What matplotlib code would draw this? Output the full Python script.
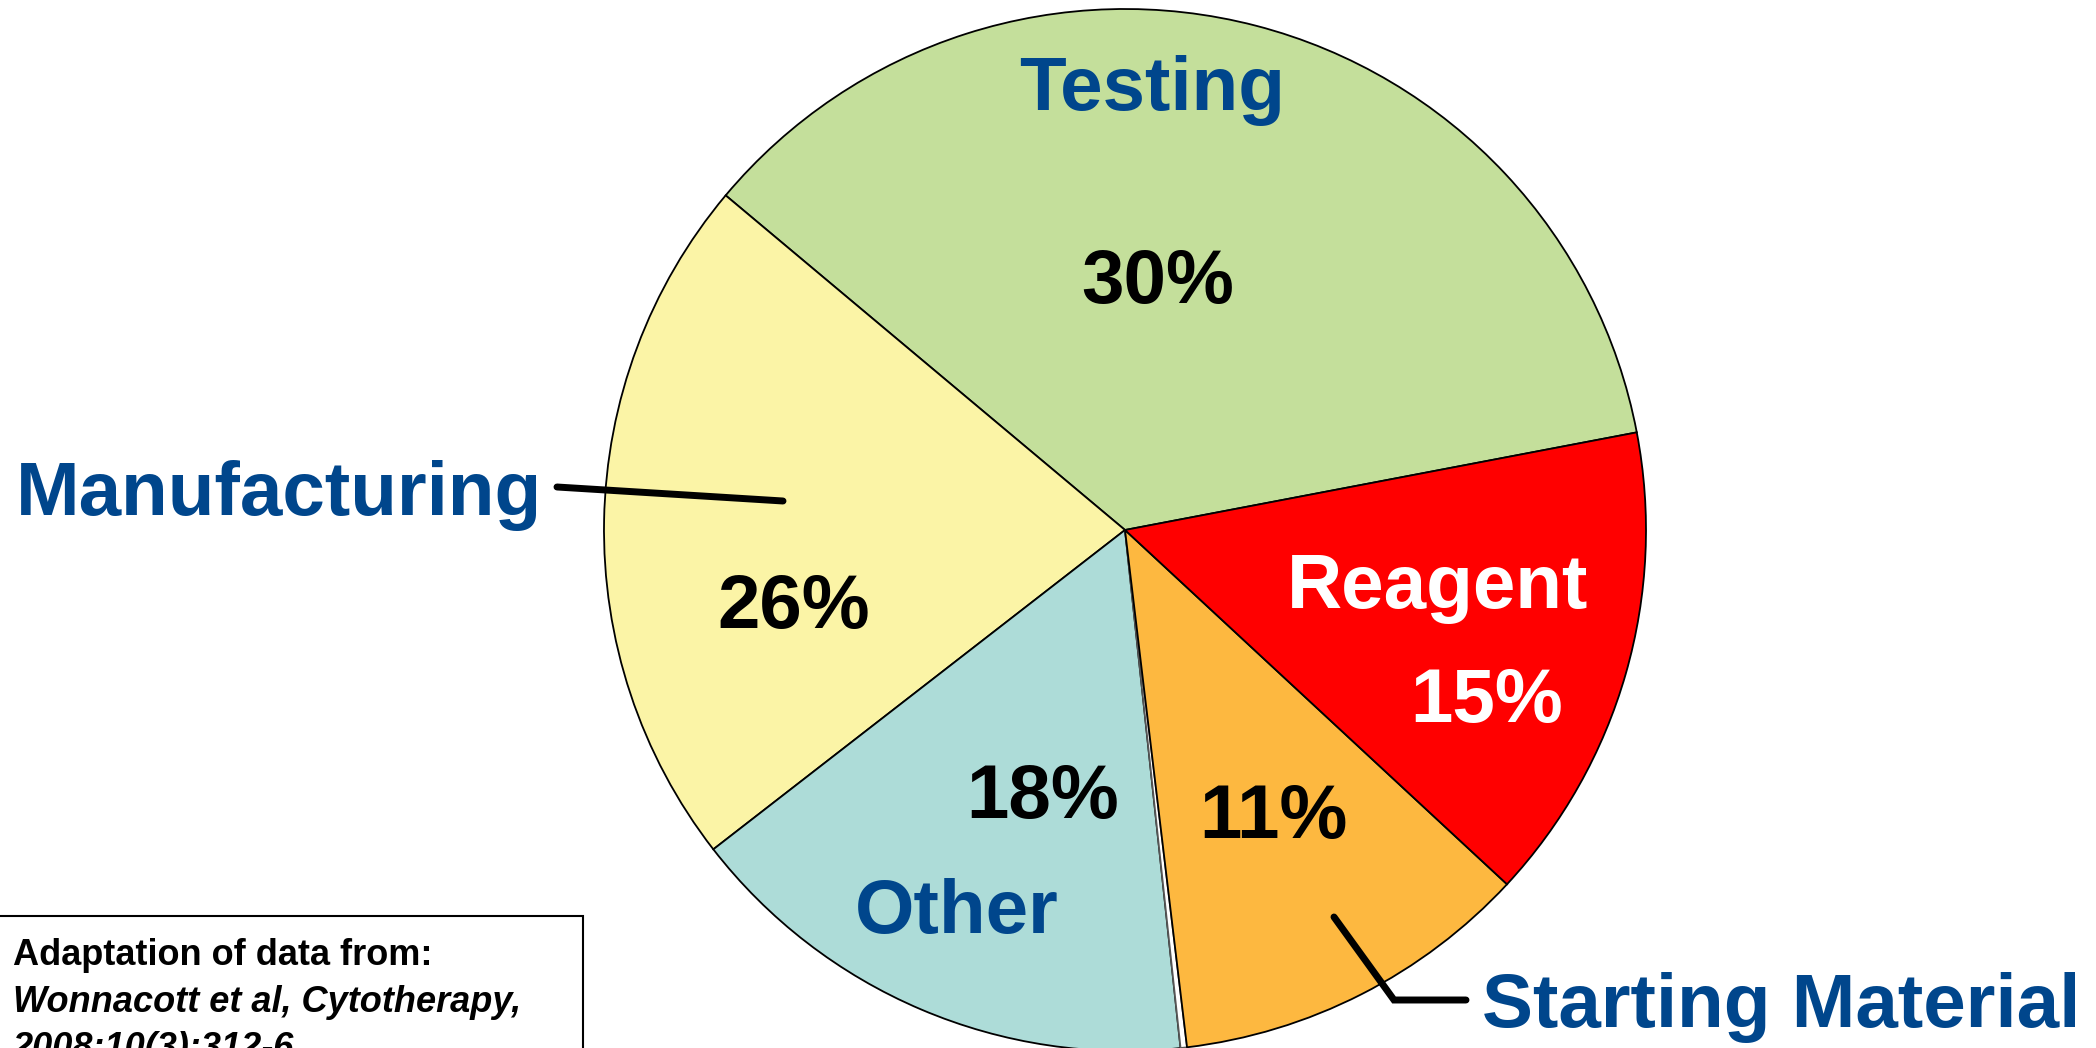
"""Pie chart of cost breakdown (adapted from Wonnacott et al, Cytotherapy 2008)."""

import matplotlib.pyplot as plt
from matplotlib.patches import Rectangle

plt.rcParams["font.family"] = ["Liberation Sans", "DejaVu Sans"]

# wedge shares as drawn (counter-clockwise from the Testing/Reagent edge)
categories = ["Testing", "Manufacturing", "Other", "", "Starting Material", "Reagent"]
shares = [35.9, 21.6, 16.2, 0.2, 11.2, 14.9]
pct_labels = ["30%", "26%", "18%", "", "11%", "15%"]
colors = ["#C4DF9B", "#FBF4A6", "#ADDCD8", "#FFFFFF", "#FDB840", "#FF0000"]

BLUE = "#00468C"
W, H = 2096, 1048

fig = plt.figure(figsize=(W / 100, H / 100), dpi=100)
ax = fig.add_axes([0, 0, 1, 1])

wedges, _ = ax.pie(
    shares, colors=colors, startangle=10.8, counterclock=True,
    center=(1125, 518), radius=521,
    wedgeprops=dict(edgecolor="black", linewidth=1.3),
)
wedges[3].set_edgecolor("#555555")

ax.set_xlim(0, W)
ax.set_ylim(0, H)
ax.set_aspect("equal")
ax.axis("off")

big = dict(fontsize=55, fontweight="bold", va="baseline")

# category names
ax.text(1152, 938, categories[0], color=BLUE, ha="center", **big)
ax.text(16, 533, categories[1], color=BLUE, ha="left", **big)
ax.text(957, 115, categories[2], color=BLUE, ha="center", **big)
ax.text(1482, 21, categories[4], color=BLUE, ha="left", **big)
ax.text(1438, 440, categories[5], color="white", ha="center", **big)

# percentages
ax.text(1158, 745, pct_labels[0], color="black", ha="center", **big)
ax.text(794, 420, pct_labels[1], color="black", ha="center", **big)
ax.text(1043, 230, pct_labels[2], color="black", ha="center", **big)
ax.text(1273, 210, pct_labels[4], color="black", ha="center", **big)
ax.text(1487, 326, pct_labels[5], color="white", ha="center", **big)

# leader lines
ax.plot([557, 783], [561, 547], color="black", lw=5, solid_capstyle="round")
ax.plot([1334, 1394, 1466], [131, 48, 48], color="black", lw=5,
        solid_capstyle="round", solid_joinstyle="miter")

# source box (its last line runs off the bottom edge, as in the source slide)
ax.add_patch(Rectangle((-5, -40), 588, 172, facecolor="white",
                       edgecolor="black", lw=1.5, zorder=3))
ax.text(13, 83, "Adaptation of data from:", fontsize=26, fontweight="bold",
        va="baseline", zorder=4)
ax.text(13, 36, "Wonnacott et al, Cytotherapy,", fontsize=26, fontweight="bold",
        style="italic", va="baseline", zorder=4)
ax.text(13, -10, "2008;10(3):312-6", fontsize=26, fontweight="bold",
        style="italic", va="baseline", zorder=4)

fig.savefig("out.png", dpi=100)
